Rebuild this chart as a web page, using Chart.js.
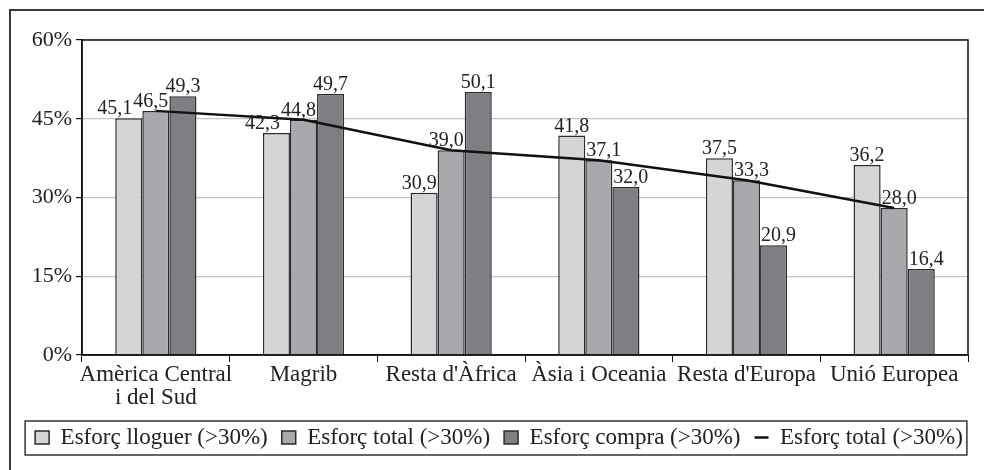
<!DOCTYPE html>
<html><head><meta charset="utf-8">
<script src="https://cdn.jsdelivr.net/npm/chart.js@4/dist/chart.umd.min.js"></script>
<style>html,body{margin:0;padding:0;background:#fff}#wrap{width:984px;height:470px;position:relative}</style>
</head><body><div id="wrap"><canvas id="c" width="984" height="470"></canvas></div>
<script>
const categories = [["Amèrica Central","i del Sud"],"Magrib","Resta d'Àfrica","Àsia i Oceania","Resta d'Europa","Unió Europea"];
const esforcLloguer = [45.1, 42.3, 30.9, 41.8, 37.5, 36.2];
const esforcTotal = [46.5, 44.8, 39.0, 37.1, 33.3, 28.0];
const esforcCompra = [49.3, 49.7, 50.1, 32.0, 20.9, 16.4];
const seriesNames = ["Esforç lloguer (>30%)", "Esforç total (>30%)", "Esforç compra (>30%)", "Esforç total (>30%)"];
const yTicks = [0, 15, 30, 45, 60];

const FONT = "'Liberation Serif', 'DejaVu Serif', serif";
const fmt = v => v.toFixed(1).replace('.', ',');
const PAD = { top: 40, right: 16, left: 0, bottom: 11 };

const framePlugin = {
  id: 'frames',
  afterLayout(chart) {
    chart.legend.left += 15;
    chart.legend.right += 15;
  },
  beforeDraw(chart) {
    const ctx = chart.ctx;
    ctx.save();
    ctx.strokeStyle = '#3a3a3a';
    ctx.lineWidth = 2;
    ctx.strokeRect(10, 10, 1000, 500);
    ctx.restore();
  },
  afterDraw(chart) {
    const ctx = chart.ctx, a = chart.chartArea;
    ctx.save();
    ctx.strokeStyle = '#111';
    ctx.lineWidth = 1.5;
    ctx.strokeRect(a.left, a.top, a.right - a.left, a.bottom - a.top);
    const hb = chart.legend.legendHitBoxes;
    if (hb && hb.length) {
      let l = Infinity, r = -Infinity, t = Infinity, b = -Infinity;
      hb.forEach(h => { l = Math.min(l, h.left); r = Math.max(r, h.left + h.width); t = Math.min(t, h.top); b = Math.max(b, h.top + h.height); });
      ctx.strokeStyle = '#333';
      ctx.lineWidth = 1.5;
      ctx.strokeRect(l - 10, t - 5, (r - l) + 14, (b - t) + 11);
    }
    ctx.restore();
  }
};

const labelPlugin = {
  id: 'barLabels',
  afterDatasetsDraw(chart) {
    const ctx = chart.ctx;
    ctx.save();
    const fs = 20;
    ctx.font = fs + 'px ' + FONT;
    ctx.fillStyle = '#222';
    ctx.textAlign = 'center';
    ctx.textBaseline = 'alphabetic';
    const barSets = [0, 1, 2];
    const n = categories.length;
    for (let i = 0; i < n; i++) {
      const bars = barSets.map(d => {
        const el = chart.getDatasetMeta(d).data[i];
        const w = el.width;
        return { d, val: chart.data.datasets[d].data[i], l: el.x - w / 2, r: el.x + w / 2, t: el.y, b: el.base, x: el.x };
      });
      const order = bars.slice().sort((p, q) => q.val - p.val);
      const placed = [];
      order.forEach(bar => {
        const txt = fmt(bar.val);
        const tw = ctx.measureText(txt).width;
        const base = bar.t - 4;
        const box = { l: bar.x - tw / 2, r: bar.x + tw / 2, t: base - fs * 0.7, b: base };
        for (let k = 0; k < 8; k++) {
          const obs = bars.filter(o => o !== bar).map(o => ({ l: o.l, r: o.r, t: o.t, b: o.b })).concat(placed);
          const hit = obs.find(o => box.l < o.r && box.r > o.l && box.t < o.b && box.b > o.t);
          if (!hit) break;
          const cx = (box.l + box.r) / 2, ox = (hit.l + hit.r) / 2;
          let shift = ox > cx ? (hit.l - 1) - box.r : (hit.r + 1) - box.l;
          box.l += shift; box.r += shift;
        }
        placed.push(box);
        ctx.fillText(txt, (box.l + box.r) / 2, base);
      });
    }
    ctx.restore();
  }
};

const barBorder = '#2b2b2b';
new Chart(document.getElementById('c'), {
  type: 'bar',
  data: {
    labels: categories,
    datasets: [
      { label: seriesNames[0], data: esforcLloguer, backgroundColor: '#d4d5d7', borderColor: barBorder, borderWidth: 1.5, pointStyle: 'rect', categoryPercentage: 0.55, barPercentage: 1.0 },
      { label: seriesNames[1], data: esforcTotal, backgroundColor: '#a8a9ac', borderColor: barBorder, borderWidth: 1.5, pointStyle: 'rect', categoryPercentage: 0.55, barPercentage: 1.0 },
      { label: seriesNames[2], data: esforcCompra, backgroundColor: '#7e7f83', borderColor: barBorder, borderWidth: 1.5, pointStyle: 'rect', categoryPercentage: 0.55, barPercentage: 1.0 },
      { type: 'line', label: seriesNames[3], data: esforcTotal, borderColor: '#111', backgroundColor: '#111', borderWidth: 2.5, pointRadius: 0, pointStyle: 'line', tension: 0, order: -1 }
    ]
  },
  options: {
    responsive: false,
    animation: false,
    devicePixelRatio: 1,
    layout: { padding: PAD },
    plugins: {
      tooltip: { enabled: false },
      legend: {
        position: 'bottom',
        labels: {
          usePointStyle: true,
          pointStyleWidth: 14,
          boxHeight: 13,
          padding: 14,
          color: '#222',
          font: { family: FONT, size: 23 },
          sort: (a, b) => a.datasetIndex - b.datasetIndex
        }
      }
    },
    scales: {
      x: {
        grid: { display: true, drawOnChartArea: false, drawTicks: true, tickLength: 7, tickColor: '#111', offset: true },
        border: { display: true, color: '#111', width: 1.5 },
        ticks: { color: '#222', font: { family: FONT, size: 23, lineHeight: 1.0 }, padding: 1, maxRotation: 0, autoSkip: false },
        afterFit(s) { s.height = 470 - 355 - s.chart.legend.height - PAD.bottom; }
      },
      y: {
        min: 0, max: 60,
        afterBuildTicks(s) { s.ticks = yTicks.map(v => ({ value: v })); },
        grid: { color: '#c4c4c4', lineWidth: 1.2, drawTicks: true, tickLength: 6, tickColor: '#111' },
        border: { display: true, color: '#111', width: 1.5 },
        ticks: { color: '#222', font: { family: FONT, size: 22 }, padding: 4, callback: v => v + '%' },
        afterFit(s) { s.width = 82 - PAD.left; }
      }
    }
  },
  plugins: [framePlugin, labelPlugin]
});
</script></body></html>
